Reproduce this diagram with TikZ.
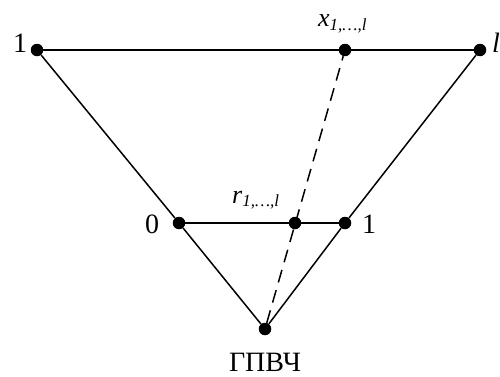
\documentclass[tikz,border=0pt]{standalone}
\usepackage{fontspec}
\setmainfont{Liberation Serif}
\begin{document}
\begin{tikzpicture}[x=1pt,y=1pt,
  dot/.style={circle,fill=black,inner sep=0pt,minimum size=12.5pt},
  edge/.style={line width=1.5pt},
  dashedge/.style={line width=1.5pt,dash pattern=on 13pt off 8pt},
  lbl/.style={inner sep=0pt,anchor=base,font=\fontsize{28}{32}\selectfont},
  sub/.style={inner sep=0pt,anchor=base west,font=\fontsize{26}{30}\selectfont\itshape}]
\useasboundingbox (0,0) rectangle (500,376);
\node[dot] (tl) at (37,326) {};
\node[dot] (tr) at (480,326) {};
\node[dot] (tx) at (345,326) {};
\node[dot] (ml) at (179,153) {};
\node[dot] (mr) at (345,153) {};
\node[dot] (mx) at (295,153) {};
\node[dot] (b) at (265,47) {};
\draw[edge] (tl) -- (tr);
\draw[edge] (ml) -- (mr);
\draw[edge] (tl) -- (ml) -- (b) -- (mr) -- (tr);
\draw[dashedge] (b) -- (tx);
\node[lbl] (l1) at (20,324) {1};
\node[lbl,anchor=base west] (ll) at (492,324) {\itshape l};
\node[lbl] (l0) at (152,143) {0};
\node[lbl] (l1b) at (369,143) {1};
\node[lbl] (lg) at (265,5) {ГПВЧ};
\node[sub] (lx) at (318,349) {x\raisebox{-0.3ex}{\fontsize{17}{20}\selectfont 1,…,l}};
\node[sub] (lr) at (232,173) {r\raisebox{-0.3ex}{\fontsize{17}{20}\selectfont 1,…,l}};
\end{tikzpicture}
\end{document}
